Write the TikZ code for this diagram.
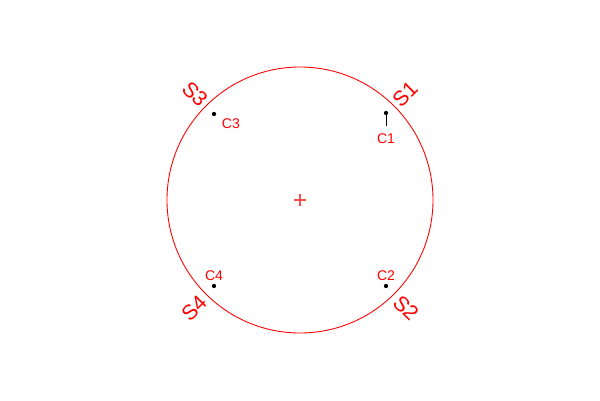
\documentclass[tikz,border=0pt]{standalone}
\usepackage{fontspec}
\setmainfont{Liberation Sans}
\usepackage{tikz}
\usetikzlibrary{positioning}

\tikzset{
  dot/.style={circle, fill=black, inner sep=0pt, minimum size=0.085cm},
  clab/.style={text=red, inner sep=1pt, font=\fontsize{8}{9}\selectfont},
  slab/.style={text=red, inner sep=0pt, font=\fontsize{12}{14}\selectfont},
}

\begin{document}
\begin{tikzpicture}[x=0.02cm, y=0.02cm]
  \useasboundingbox (0,0) rectangle (600,400);
  \coordinate (o) at (300,200);
  \draw[red, line width=0.5pt] (o) circle (133);
  \draw[red!70, line width=0.6pt] (o) +(-6,0) -- +(6,0) (o) +(0,-6) -- +(0,6);

  % centres
  \node[dot] (c1) at (386,287) {};
  \node[dot] (c2) at (386,114) {};
  \node[dot] (c3) at (214,286) {};
  \node[dot] (c4) at (214,114) {};
  \node[clab, below=0.32cm of c1] (c1lab) {C1};
  \node[clab, above=0.02cm of c2] (c2lab) {C2};
  \node[clab, below right=0.02cm and 0.08cm of c3] (c3lab) {C3};
  \node[clab, above=0.02cm of c4] (c4lab) {C4};
  \draw[line width=0.4pt] (c1) -- ([yshift=3pt]c1lab.north);

  % sides
  \node[slab, rotate=45] (s1) at (405,306) {S1};
  \node[slab, rotate=-45] (s2) at (406,92) {S2};
  \node[slab, rotate=-45] (s3) at (195,306) {S3};
  \node[slab, rotate=45] (s4) at (194,92) {S4};
\end{tikzpicture}
\end{document}
